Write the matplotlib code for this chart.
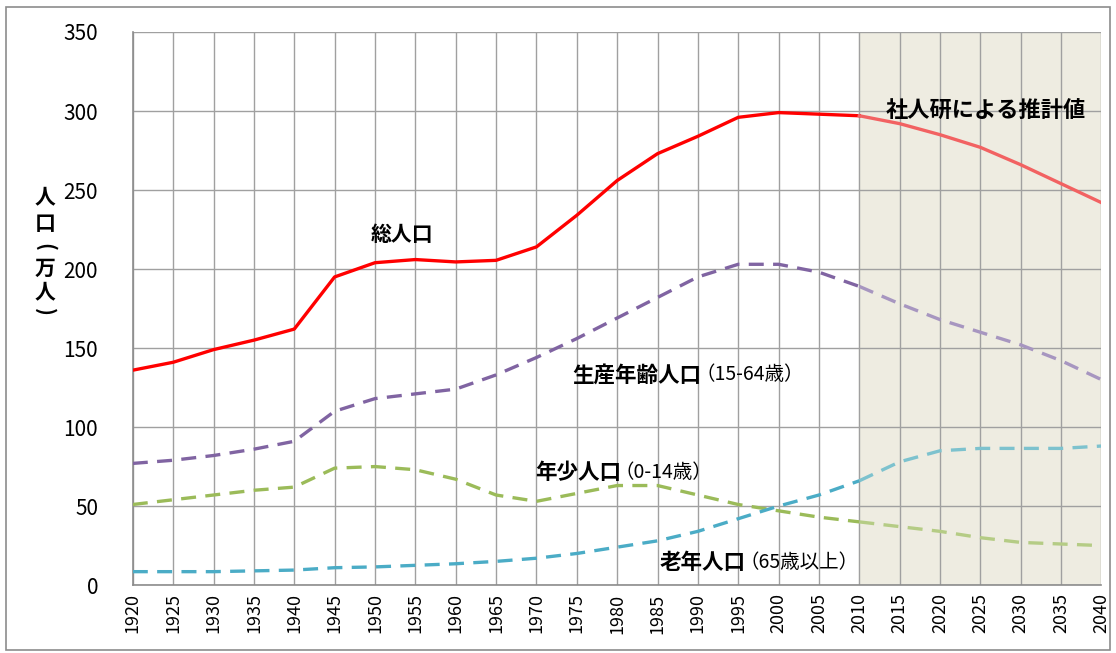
import matplotlib
matplotlib.use("Agg")
import matplotlib.pyplot as plt
from matplotlib.patches import Rectangle

plt.rcParams['font.family'] = ['Noto Sans CJK JP', 'DejaVu Sans']

years = [1920, 1925, 1930, 1935, 1940, 1945, 1950, 1955, 1960, 1965, 1970, 1975, 1980,
         1985, 1990, 1995, 2000, 2005, 2010, 2015, 2020, 2025, 2030, 2035, 2040]
total = [136, 141, 149, 155, 162, 195, 204, 206, 204.5, 205.5, 214, 234, 256,
         273, 284, 296, 299, 298, 297, 292, 285, 277, 266, 254, 242]
working = [77, 79, 82, 86, 91, 110, 118, 121, 124, 133, 144, 156, 169,
           182, 195, 203, 203, 198, 189, 178, 168, 160, 152, 142, 130]
young = [51, 54, 57, 60, 62, 74, 75, 73, 67, 57, 53, 58, 63,
         63, 57, 51, 47, 43, 40, 37, 34, 30, 27, 26, 25]
old = [8.5, 8.5, 8.5, 9, 9.5, 11, 11.5, 12.5, 13.5, 15, 17, 20, 24,
       28, 34, 42, 50, 57, 66, 78, 85, 86.5, 86.5, 86.5, 88]
proj_start = 2010

fig = plt.figure(figsize=(11.16, 6.53), dpi=100)
ax = fig.add_axes([0.119, 0.104, 0.868, 0.847])

# outer frame
fig.patches.append(Rectangle((0.005, 0.005), 0.99, 0.984, transform=fig.transFigure,
                             fill=False, edgecolor='#8c8c8c', linewidth=1.2))

ax.axvspan(proj_start, years[-1], color='#EEECE1', zorder=0)

k = years.index(proj_start)
series = [
    (total, '#FF0000', '#F26262', '-'),
    (working, '#8064A2', '#A796C0', '--'),
    (young, '#9BBB59', '#B5CC85', '--'),
    (old, '#4BACC6', '#7DC2CE', '--'),
]
for vals, c_hist, c_proj, ls in series:
    kw = dict(linewidth=2.4, linestyle=ls, zorder=3)
    if ls == '--':
        kw['dashes'] = (4.5, 2.8)
    ax.plot(years[:k + 1], vals[:k + 1], color=c_hist, **kw)
    ax.plot(years[k:], vals[k:], color=c_proj, **kw)

ax.set_xlim(1920, 2040)
ax.set_ylim(0, 350)
ax.set_xticks(years)
ax.set_xticklabels([str(y) for y in years], rotation=90, fontsize=13)
ax.set_yticks(range(0, 351, 50))
ax.tick_params(axis='y', labelsize=15, length=0, pad=25)
ax.tick_params(axis='x', length=0, pad=6)
ax.grid(True, color='#a0a0a0', linewidth=1)
ax.set_axisbelow(True)
for s in ['top', 'right']:
    ax.spines[s].set_visible(False)
for s in ['left', 'bottom']:
    ax.spines[s].set_color('#8c8c8c')
    ax.spines[s].set_linewidth(1.2)

# vertical y label, character by character (parentheses turned)
ylab = [("人", 197, 0), ("口", 224, 0), ("(", 247, -90), ("万", 268, 0), ("人", 292, 0), (")", 312, -90)]
for ch, ypix, rot in ylab:
    fig.text(45 / 1116, 1 - ypix / 653, ch, fontsize=15, fontweight='bold',
             ha='center', va='center', rotation=rot)

ax.text(1949.5, 222, "総人口", fontsize=15, fontweight='bold', ha='left', va='center')
ax.text(2013.3, 300.5, "社人研による推計値", fontsize=16, fontweight='bold', ha='left', va='center')

fig.canvas.draw()
renderer = fig.canvas.get_renderer()


def two_part(x, y, bold_part, normal_part):
    t = ax.text(x, y, bold_part, fontsize=15.5, fontweight='bold', ha='left', va='center')
    bb = t.get_window_extent(renderer)
    xe = ax.transData.inverted().transform((bb.x1 - 6, bb.y0))[0]
    ax.text(xe, y, normal_part, fontsize=14, ha='left', va='center')


two_part(1974.5, 133, "生産年齢人口", "（15-64歳）")
two_part(1969.8, 71.5, "年少人口", "（0-14歳）")
two_part(1985.3, 14, "老年人口", "（65歳以上）")

fig.savefig("out.png", dpi=100)
